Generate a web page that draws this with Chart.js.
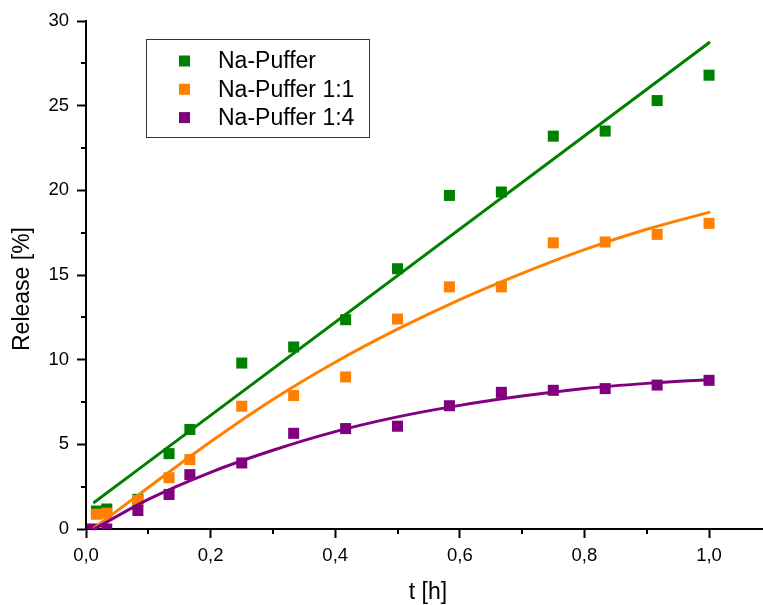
<!DOCTYPE html>
<html>
<head>
<meta charset="utf-8">
<title>Release</title>
<script src="https://cdn.jsdelivr.net/npm/chart.js@4/dist/chart.umd.min.js"></script>
<style>
  html, body { margin: 0; padding: 0; background: #fff; }
  canvas { display: block; }
</style>
</head>
<body>
<canvas id="releaseChart" width="763" height="605"></canvas>
<script>
// Messzeitpunkte [h]
var tMess = [0.0167, 0.0333, 0.0833, 0.1333, 0.1667, 0.25, 0.3333, 0.4167, 0.5, 0.5833, 0.6667, 0.75, 0.8333, 0.9167, 1.0];
var tMess14 = [0.01, 0.0333, 0.0833, 0.1333, 0.1667, 0.25, 0.3333, 0.4167, 0.5, 0.5833, 0.6667, 0.75, 0.8333, 0.9167, 1.0];

// Freisetzung [%]
var naPuffer = [1.06, 1.18, 1.75, 4.45, 5.88, 9.8, 10.75, 12.36, 15.37, 19.7, 19.9, 23.2, 23.5, 25.3, 26.8];
var naPuffer11 = [0.87, 0.93, 1.68, 3.03, 4.1, 7.25, 7.88, 8.98, 12.4, 14.3, 14.3, 16.9, 16.95, 17.4, 18.05];
var naPuffer14 = [0.0, 0.0, 1.09, 2.04, 3.21, 3.9, 5.65, 5.93, 6.07, 7.28, 8.07, 8.19, 8.29, 8.5, 8.78];

// Fitkurven
var tFitLin = [0.0134, 1.0];
var fitNaPuffer = [1.58, 28.72];
var tFit = [0.0134, 0.1, 0.2, 0.3, 0.4, 0.5, 0.6, 0.7, 0.8, 0.9, 1.0];
var fitNaPuffer11 = [0.07, 2.45, 5.15, 7.65, 9.85, 11.8, 13.55, 15.1, 16.5, 17.7, 18.7];
var fitNaPuffer14 = [0.0, 1.75, 3.35, 4.65, 5.75, 6.62, 7.3, 7.85, 8.3, 8.6, 8.82];

// Achsen
var xTicks = [0, 0.2, 0.4, 0.6, 0.8, 1.0];
var xMinor = [0.1, 0.3, 0.5, 0.7, 0.9];
var yTicks = [0, 5, 10, 15, 20, 25, 30];
var yMinor = [2.5, 7.5, 12.5, 17.5, 22.5, 27.5];

var labels = ['Na-Puffer', 'Na-Puffer 1:1', 'Na-Puffer 1:4'];
var farben = ['#008000', '#FF8000', '#800080'];

var FONT = "'Liberation Sans', Arial, sans-serif";

function punkte(xs, ys) {
    return xs.map(function (x, i) { return { x: x, y: ys[i] }; });
}

function messReihe(idx, xs, ys, order) {
    return {
        label: labels[idx],
        data: punkte(xs, ys),
        pointStyle: 'rect',
        pointRadius: 7.8,
        pointHoverRadius: 7.8,
        pointBorderWidth: 0,
        pointBackgroundColor: farben[idx],
        borderColor: farben[idx],
        showLine: false,
        order: order
    };
}

function fitReihe(idx, xs, ys, order) {
    return {
        label: labels[idx] + ' Fit',
        data: punkte(xs, ys),
        showLine: true,
        pointRadius: 0,
        borderColor: farben[idx],
        borderWidth: 3,
        borderCapStyle: 'round',
        cubicInterpolationMode: 'monotone',
        fill: false,
        clip: false,
        order: order
    };
}

// Nebenticks, Achsentitel und Legende selbst zeichnen
var extras = {
    id: 'extras',
    afterDraw: function (chart) {
        var c = chart.ctx;
        var xs = chart.scales.x, ys = chart.scales.y;
        var area = chart.chartArea;
        c.save();
        c.strokeStyle = '#000';
        c.lineWidth = 2;
        xMinor.forEach(function (v) {
            var px = Math.round(xs.getPixelForValue(v));
            c.beginPath();
            c.moveTo(px, area.bottom);
            c.lineTo(px, area.bottom + 5);
            c.stroke();
        });
        yMinor.forEach(function (v) {
            var py = Math.round(ys.getPixelForValue(v));
            c.beginPath();
            c.moveTo(area.left, py);
            c.lineTo(area.left - 5, py);
            c.stroke();
        });

        // Achsentitel
        c.fillStyle = '#000';
        c.font = '23px ' + FONT;
        c.textAlign = 'center';
        c.textBaseline = 'middle';
        c.fillText('t [h]', (area.left + area.right) / 2 + 4, chart.height - 12);
        c.save();
        c.translate(23, (area.top + area.bottom) / 2 + 14);
        c.rotate(-Math.PI / 2);
        c.fillText('Release [%]', 0, 0);
        c.restore();

        // Legende
        c.lineWidth = 1;
        c.strokeStyle = '#333';
        c.strokeRect(146.5, 39.5, 223, 98);
        c.font = '23px ' + FONT;
        c.textAlign = 'left';
        labels.forEach(function (txt, i) {
            var yy = 61 + i * 28.3;
            c.fillStyle = farben[i];
            c.fillRect(179, yy - 5.5, 11, 11);
            c.fillStyle = '#000';
            c.fillText(txt, 218, yy + 1);
        });
        c.restore();
    }
};

new Chart(document.getElementById('releaseChart'), {
    type: 'scatter',
    data: {
        datasets: [
            messReihe(0, tMess, naPuffer, 5),
            messReihe(1, tMess, naPuffer11, 4),
            messReihe(2, tMess14, naPuffer14, 3),
            fitReihe(0, tFitLin, fitNaPuffer, 2),
            fitReihe(1, tFit, fitNaPuffer11, 1),
            fitReihe(2, tFit, fitNaPuffer14, 0)
        ]
    },
    options: {
        responsive: false,
        animation: false,
        devicePixelRatio: 1,
        layout: { autoPadding: false, padding: { top: 21, right: 1, left: 0, bottom: 0 } },
        plugins: {
            legend: { display: false },
            tooltip: { enabled: false }
        },
        scales: {
            x: {
                type: 'linear',
                min: 0,
                max: 1.085,
                afterBuildTicks: function (scale) {
                    scale.ticks = xTicks.map(function (v) { return { value: v }; });
                },
                afterFit: function (scale) {
                    scale.height = 76;
                    scale.paddingRight = 0;
                    scale.paddingLeft = 0;
                },
                ticks: {
                    color: '#000',
                    padding: 7,
                    maxRotation: 0,
                    font: { family: FONT, size: 18.5 },
                    callback: function (v) { return v.toFixed(1).replace('.', ','); }
                },
                grid: { drawOnChartArea: false, tickLength: 9, tickWidth: 2, tickColor: '#000' },
                border: { color: '#000', width: 2 }
            },
            y: {
                type: 'linear',
                min: 0,
                max: 30,
                afterBuildTicks: function (scale) {
                    scale.ticks = yTicks.map(function (v) { return { value: v }; });
                },
                afterFit: function (scale) {
                    scale.width = 86;
                    scale.paddingTop = 0;
                    scale.paddingBottom = 0;
                },
                ticks: {
                    color: '#000',
                    padding: 8,
                    font: { family: FONT, size: 18.5 },
                    callback: function (v) { return String(v); }
                },
                grid: { drawOnChartArea: false, tickLength: 9, tickWidth: 2, tickColor: '#000' },
                border: { color: '#000', width: 2 }
            }
        }
    },
    plugins: [extras]
});
</script>
</body>
</html>
